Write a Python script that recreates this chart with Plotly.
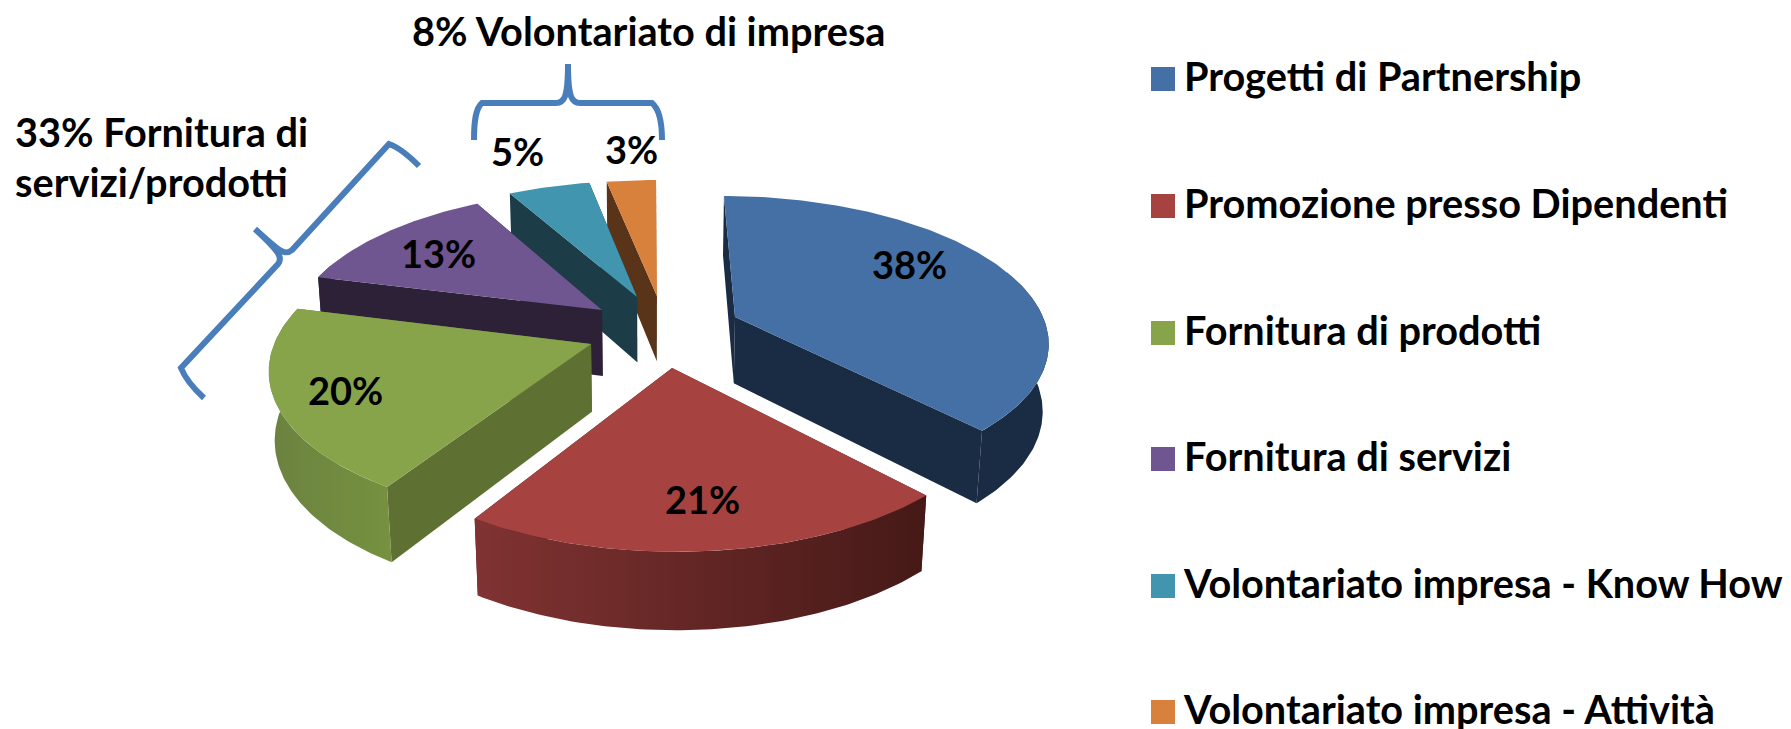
import math
import plotly.graph_objects as go

# ---- data ----
categories = ["Progetti di Partnership", "Promozione presso Dipendenti", "Fornitura di prodotti",
              "Fornitura di servizi", "Volontariato impresa - Know How", "Volontariato impresa - Attività"]
values = [38, 21, 20, 13, 5, 3]

# ---- style ----
top_colors = ["#4570A5", "#A64341", "#87A44B", "#6F5690", "#4195AE", "#D8813D"]
side_colors = ["#1A2C44", "#451A18", "#5E7032", "#2D2138", "#1C3C48", "#5A3418"]
outer_gradients = [
    ["#1A2C44", "#1A2C44"], ["#803332", "#451917"], ["#6B8240", "#76913F"],
    ["#2D2138", "#2D2138"], ["#1C3C48", "#1C3C48"], ["#5A3418", "#5A3418"],
]
explode_x = [0.276, 0.068, -0.186, -0.157, -0.043, 0.023]
explode_y = [-0.0215, 0.326, 0.167, -0.072, -0.168, -0.176]
draw_order = [5, 4, 3, 0, 2, 1]
label_x = [909, 702, 345, 438, 517, 631]
label_y = [264, 499, 390, 253, 151, 149]
legend_row_y = [79, 206, 333, 459, 586, 712]

FONT = "Lato, Carlito, Calibri, sans-serif"
TEXT_SIZE = 39.7
LABEL_SIZE = 38
W, H = 1791, 729
CX, CY, R, T, K, DEPTH, M = 650, 320, 309, 140, 0.15, 67.5, 0.015


def project(x, y, bottom=False):
    w = 1 - K * y + (M if bottom else 0)
    return CX + R * x / w, CY + (T * y + (DEPTH if bottom else 0)) / w


def poly(fig, pts, color=None, grad=None):
    xs = [p[0] for p in pts] + [pts[0][0]]
    ys = [p[1] for p in pts] + [pts[0][1]]
    kw = dict(fillcolor=color) if grad is None else dict(
        fillgradient=dict(type="horizontal", colorscale=[[0, grad[0]], [1, grad[1]]]))
    fig.add_trace(go.Scatter(x=xs, y=ys, mode="lines", fill="toself", line=dict(width=0),
                             hoverinfo="skip", showlegend=False, **kw))


fig = go.Figure()
total = sum(values)
starts = [sum(values[:i]) / total * 2 * math.pi for i in range(len(values))]

for i in draw_order:
    a0 = starts[i]
    a1 = a0 + values[i] / total * 2 * math.pi
    ax, ay = explode_x[i], explode_y[i]
    n = max(8, int(values[i] * 4))
    angles = [a0 + (a1 - a0) * j / n for j in range(n + 1)]
    rim = [(ax + math.sin(a), ay - math.cos(a)) for a in angles]
    top = [project(*p) for p in rim]
    bot = [project(*p, bottom=True) for p in rim]
    apex_t, apex_b = project(ax, ay), project(ax, ay, True)
    poly(fig, [apex_t, top[0], bot[0], apex_b], color=side_colors[i])
    poly(fig, [apex_t, top[-1], bot[-1], apex_b], color=side_colors[i])
    # outer wall: the part of the rim that can face the viewer
    front = [j for j in range(n + 1) if math.cos(angles[j]) < 0.35]
    if len(front) > 1:
        poly(fig, [top[j] for j in front] + [bot[j] for j in reversed(front)], grad=outer_gradients[i])
    poly(fig, [apex_t] + top, color=top_colors[i])

# legend: one marker + text per category, drawn on the same pixel-sized axes
for name, color, row in zip(categories, top_colors, legend_row_y):
    fig.add_trace(go.Scatter(x=[1163], y=[row], mode="markers", name=name, hoverinfo="name",
                             marker=dict(symbol="square", size=24, color=color, line=dict(width=0)),
                             showlegend=False, cliponaxis=False))
    fig.add_trace(go.Scatter(x=[1184], y=[row + 2], mode="text", text=[name], hoverinfo="skip",
                             textposition="middle right",
                             textfont=dict(family=FONT, size=TEXT_SIZE, color="black", weight="bold"),
                             showlegend=False, cliponaxis=False))

annotations = [
    dict(x=x, y=y, text=f"<b>{v}%</b>", showarrow=False, xanchor="center", yanchor="middle",
         font=dict(size=LABEL_SIZE))
    for x, y, v in zip(label_x, label_y, values)
]
annotations += [
    dict(x=649, y=30, text="<b>8% Volontariato di impresa</b>", showarrow=False, xanchor="center", yanchor="middle"),
    dict(x=13, y=131, text="<b>33% Fornitura di</b>", showarrow=False, xanchor="left", yanchor="middle"),
    dict(x=13, y=181, text="<b>servizi/prodotti</b>", showarrow=False, xanchor="left", yanchor="middle"),
]

brace = dict(width=6, color="#4A7EBB")
shapes = [
    dict(type="path", xref="x", yref="y", line=brace,
         path="M 474 140 C 474 120 476 108 482 103 L 556 103 C 564 103 568 98 568 64 "
              "C 568 98 572 103 580 103 L 652 103 C 658 108 662 120 662 140"),
    dict(type="path", xref="x", yref="y", line=brace,
         path="M 419 166 C 405 152 395 146 389 144 L 292 250 C 285 256 280 252 255 229 "
              "C 280 252 283 258 278 264 L 181 368 C 185 378 192 387 204 398"),
]

fig.update_layout(
    width=W, height=H, margin=dict(l=0, r=0, t=0, b=0, autoexpand=False),
    paper_bgcolor="white", plot_bgcolor="white", showlegend=False,
    font=dict(family=FONT, size=TEXT_SIZE, color="black"),
    xaxis=dict(range=[0, W], visible=False, fixedrange=True),
    yaxis=dict(range=[H, 0], visible=False, fixedrange=True),
    annotations=annotations, shapes=shapes,
)
fig.write_html("out.html", config={"displayModeBar": False},
               post_script="document.body.style.margin='0';document.documentElement.style.overflow='hidden';")
